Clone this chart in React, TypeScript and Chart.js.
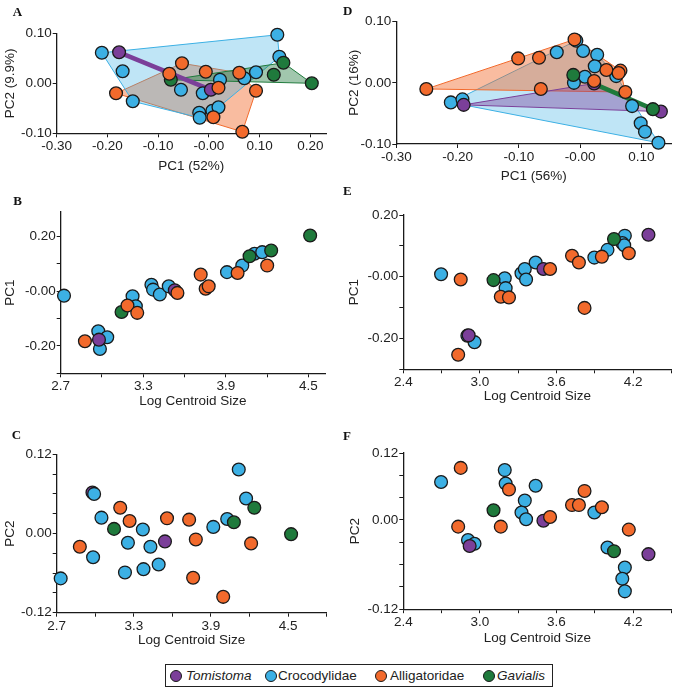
import React, { useEffect, useRef } from 'react';
import { Chart, registerables } from 'chart.js';
Chart.register(...registerables);

const FONT = '"Liberation Sans", Arial, Helvetica, sans-serif';
const SERIF = '"Liberation Serif", "Times New Roman", serif';
const TEXT = '#222';
const INK = '#1a1a1a';

const GROUP_KEYS = ['tomi', 'croc', 'alli', 'gavi'];
const GROUP_NAMES = ['Tomistoma', 'Crocodylidae', 'Alligatoridae', 'Gavialis'];
const GROUP_ITALIC = [true, false, false, true];
const COLORS: Record<string, string> = { tomi: '#7b3f99', croc: '#3cb0e4', alli: '#f26a2c', gavi: '#1f7a3c' };
const FILL_ALPHA: Record<string, number> = { tomi: 0.4, croc: 0.33, alli: 0.45, gavi: 0.42 };

// ---------- Panel A : PC1 vs PC2 ----------
const A_CROC_X = [-0.211, 0.135, 0.139, -0.170, -0.150, -0.055, -0.012, 0.022, -0.019, -0.018, 0.007, 0.019, 0.070, 0.093];
const A_CROC_Y = [0.061, 0.097, 0.053, 0.024, -0.036, -0.013, -0.020, 0.007, -0.059, -0.069, -0.055, -0.048, 0.010, 0.022];
const A_ALLI_X = [-0.053, -0.078, -0.006, -0.183, 0.019, 0.093, 0.009, 0.066, 0.060];
const A_ALLI_Y = [0.040, 0.019, 0.023, -0.020, -0.009, -0.015, -0.068, -0.097, 0.021];
const A_GAVI_X = [-0.075, 0.147, 0.128, 0.203];
const A_GAVI_Y = [0.007, 0.041, 0.017, 0.000];
const A_TOMI_X = [-0.177, 0.004];
const A_TOMI_Y = [0.062, -0.013];
const A_X_TICKS = [-0.3, -0.2, -0.1, 0, 0.1, 0.2];
const A_X_LABELS = ['-0.30', '-0.20', '-0.10', '-0.00', '0.10', '0.20'];
const A_Y_TICKS = [-0.1, 0, 0.1];
const A_Y_LABELS = ['-0.10', '0.00', '0.10'];

// ---------- Panel D : PC1 vs PC2 ----------
const D_CROC_X = [-0.006, -0.038, 0.005, 0.028, 0.024, 0.059, 0.008, -0.010, -0.211, -0.192, 0.085, 0.099, 0.106, 0.128];
const D_CROC_Y = [0.069, 0.050, 0.052, 0.046, 0.027, 0.011, 0.010, 0.000, -0.032, -0.027, -0.038, -0.066, -0.080, -0.098];
const D_ALLI_X = [-0.251, -0.101, -0.067, -0.009, -0.064, 0.023, 0.043, 0.066, 0.063, 0.074];
const D_ALLI_Y = [-0.010, 0.040, 0.041, 0.071, -0.010, 0.003, 0.021, 0.020, 0.016, -0.015];
const D_GAVI_X = [-0.011, 0.119];
const D_GAVI_Y = [0.013, -0.043];
const D_TOMI_X = [-0.190, 0.023, 0.132];
const D_TOMI_Y = [-0.036, -0.001, -0.047];
const D_X_TICKS = [-0.3, -0.2, -0.1, 0, 0.1];
const D_X_LABELS = ['-0.30', '-0.20', '-0.10', '-0.00', '0.10'];
const D_Y_TICKS = [-0.1, 0, 0.1];
const D_Y_LABELS = ['-0.10', '0.00', '0.10'];

// ---------- Panel B : Log centroid size vs PC1 ----------
const B_CROC_X = [2.724, 2.973, 2.985, 3.038, 3.222, 3.246, 3.359, 3.371, 3.420, 3.485, 3.908, 4.019, 4.108, 4.164];
const B_CROC_Y = [-0.016, -0.146, -0.211, -0.168, -0.018, -0.055, 0.024, 0.006, -0.012, 0.018, 0.070, 0.094, 0.137, 0.143];
const B_ALLI_X = [2.876, 3.185, 3.256, 3.548, 3.717, 3.753, 3.775, 3.985, 4.200];
const B_ALLI_Y = [-0.183, -0.052, -0.079, -0.006, 0.061, 0.009, 0.018, 0.067, 0.094];
const B_GAVI_X = [3.142, 4.072, 4.229, 4.512];
const B_GAVI_Y = [-0.076, 0.128, 0.149, 0.204];
const B_TOMI_X = [2.978, 3.529];
const B_TOMI_Y = [-0.177, 0.004];
const B_X_TICKS = [2.7, 3.0, 3.3, 3.6, 3.9, 4.2, 4.5];
const B_X_LABELS = ['2.7', '', '3.3', '', '3.9', '', '4.5'];
const B_Y_TICKS = [-0.3, -0.2, -0.1, 0, 0.1, 0.2];
const B_Y_LABELS = ['', '-0.20', '', '-0.00', '', '0.20'];

// ---------- Panel E : Log centroid size vs PC1 ----------
const E_CROC_X = [2.696, 3.195, 3.202, 3.326, 3.352, 3.362, 3.437, 2.958, 3.897, 4.000, 4.136, 4.116, 4.131, 2.902];
const E_CROC_Y = [0.008, -0.005, -0.037, 0.011, 0.025, -0.009, 0.046, -0.212, 0.062, 0.087, 0.133, 0.109, 0.102, -0.191];
const E_ALLI_X = [2.850, 2.830, 3.164, 3.228, 3.550, 3.722, 3.776, 3.820, 3.956, 4.167];
const E_ALLI_Y = [-0.009, -0.253, -0.065, -0.067, 0.025, 0.068, 0.046, -0.101, 0.065, 0.076];
const E_GAVI_X = [3.107, 4.051];
const E_GAVI_Y = [-0.011, 0.122];
const E_TOMI_X = [2.912, 3.498, 4.321];
const E_TOMI_Y = [-0.190, 0.025, 0.136];
const E_X_TICKS = [2.4, 2.7, 3.0, 3.3, 3.6, 3.9, 4.2, 4.5];
const E_X_LABELS = ['2.4', '', '3.0', '', '3.6', '', '4.2', ''];
const E_Y_TICKS = [-0.3, -0.2, -0.1, 0, 0.1, 0.2];
const E_Y_LABELS = ['', '-0.20', '', '-0.00', '', '0.20'];

// ---------- Panel C : Log centroid size vs PC2 ----------
const C_CROC_X = [2.731, 2.991, 2.983, 3.048, 3.254, 3.231, 3.370, 3.429, 3.375, 3.493, 3.918, 4.026, 4.116, 4.173];
const C_CROC_Y = [-0.068, 0.060, -0.036, 0.024, -0.014, -0.059, 0.006, -0.020, -0.054, -0.047, 0.010, 0.022, 0.097, 0.053];
const C_ALLI_X = [2.880, 3.194, 3.267, 3.558, 3.730, 3.782, 3.761, 3.995, 4.212];
const C_ALLI_Y = [-0.020, 0.039, 0.019, 0.023, 0.021, -0.009, -0.067, -0.096, -0.015];
const C_GAVI_X = [3.146, 4.078, 4.237, 4.523];
const C_GAVI_Y = [0.007, 0.017, 0.039, -0.001];
const C_TOMI_X = [2.978, 3.542];
const C_TOMI_Y = [0.062, -0.012];
const C_X_TICKS = [2.7, 3.0, 3.3, 3.6, 3.9, 4.2, 4.5, 4.8];
const C_X_LABELS = ['2.7', '', '3.3', '', '3.9', '', '4.5', ''];
const C_Y_TICKS = [-0.12, -0.09, -0.06, -0.03, 0, 0.03, 0.06, 0.09, 0.12];
const C_Y_LABELS = ['-0.12', '', '', '', '0.00', '', '', '', '0.12'];

// ---------- Panel F : Log centroid size vs PC2 ----------
const F_CROC_X = [2.696, 3.195, 3.202, 3.437, 3.352, 3.326, 3.362, 2.907, 2.958, 3.897, 4.000, 4.136, 4.116, 4.136];
const F_CROC_Y = [0.051, 0.067, 0.049, 0.046, 0.026, 0.010, 0.001, -0.027, -0.032, 0.010, -0.037, -0.064, -0.079, -0.096];
const F_ALLI_X = [2.850, 2.830, 3.164, 3.228, 3.550, 3.722, 3.776, 3.820, 3.956, 4.167];
const F_ALLI_Y = [0.070, -0.009, -0.009, 0.041, 0.004, 0.020, 0.020, 0.039, 0.017, -0.013];
const F_GAVI_X = [3.107, 4.051];
const F_GAVI_Y = [0.013, -0.042];
const F_TOMI_X = [2.920, 3.498, 4.321];
const F_TOMI_Y = [-0.035, -0.001, -0.046];
const F_X_TICKS = [2.4, 2.7, 3.0, 3.3, 3.6, 3.9, 4.2, 4.5];
const F_X_LABELS = ['2.4', '', '3.0', '', '3.6', '', '4.2', ''];
const F_Y_TICKS = [-0.12, -0.09, -0.06, -0.03, 0, 0.03, 0.06, 0.09];
const F_Y_LABELS = ['-0.12', '', '', '', '0.00', '', '', '0.12'];

type Pt = { x: number; y: number };
const pts = (xs: number[], ys: number[]): Pt[] => xs.map((x, i) => ({ x, y: ys[i] }));

function hull(p: Pt[]): Pt[] {
  const s = [...p].sort((a, b) => a.x - b.x || a.y - b.y);
  if (s.length < 3) return s;
  const cross = (o: Pt, a: Pt, b: Pt) => (a.x - o.x) * (b.y - o.y) - (a.y - o.y) * (b.x - o.x);
  const lower: Pt[] = [];
  for (const q of s) {
    while (lower.length >= 2 && cross(lower[lower.length - 2], lower[lower.length - 1], q) <= 0) lower.pop();
    lower.push(q);
  }
  const upper: Pt[] = [];
  for (let i = s.length - 1; i >= 0; i--) {
    const q = s[i];
    while (upper.length >= 2 && cross(upper[upper.length - 2], upper[upper.length - 1], q) <= 0) upper.pop();
    upper.push(q);
  }
  upper.pop();
  lower.pop();
  const h = lower.concat(upper);
  return [...h, h[0]];
}

function rgba(hex: string, a: number) {
  const n = parseInt(hex.slice(1), 16);
  return `rgba(${(n >> 16) & 255},${(n >> 8) & 255},${n & 255},${a})`;
}

const PANELS: any[] = [
  {
    label: 'A', labelPos: [12.7, 5],
    box: { x: 0, y: 0, w: 339, h: 190 }, area: { L: 56.7, R: 326, T: 33.3, B: 133.3 }, yTitleCx: 10, xTitleCy: 166.7,
    x: { min: -0.3, max: 0.231, ticks: A_X_TICKS, labels: A_X_LABELS, title: 'PC1 (52%)' },
    y: { min: -0.1, max: 0.1, ticks: A_Y_TICKS, labels: A_Y_LABELS, title: 'PC2 (9.9%)' },
    data: { tomi: pts(A_TOMI_X, A_TOMI_Y), croc: pts(A_CROC_X, A_CROC_Y), alli: pts(A_ALLI_X, A_ALLI_Y), gavi: pts(A_GAVI_X, A_GAVI_Y) },
    hulls: ['alli', 'croc', 'gavi'], lines: ['tomi'], stack: ['croc', 'tomi', 'gavi', 'alli'],
  },
  {
    label: 'D', labelPos: [343, 3.7],
    box: { x: 339, y: 0, w: 340, h: 190 }, area: { L: 396.3, R: 674, T: 21.7, B: 144 }, yTitleCx: 354, xTitleCy: 176.7,
    x: { min: -0.3, max: 0.149, ticks: D_X_TICKS, labels: D_X_LABELS, title: 'PC1 (56%)' },
    y: { min: -0.1, max: 0.1, ticks: D_Y_TICKS, labels: D_Y_LABELS, title: 'PC2 (16%)' },
    data: { tomi: pts(D_TOMI_X, D_TOMI_Y), croc: pts(D_CROC_X, D_CROC_Y), alli: pts(D_ALLI_X, D_ALLI_Y), gavi: pts(D_GAVI_X, D_GAVI_Y) },
    hulls: ['croc', 'alli', 'tomi'], lines: ['gavi'], stack: ['croc', 'tomi', 'gavi', 'alli'],
  },
  {
    label: 'B', labelPos: [13.3, 194.4],
    box: { x: 0, y: 195, w: 339, h: 225 }, area: { L: 60.7, R: 325, T: 211.7, B: 373.3 }, yTitleCx: 10, xTitleCy: 401.7,
    x: { min: 2.7, max: 4.62, ticks: B_X_TICKS, labels: B_X_LABELS, title: 'Log Centroid Size' },
    y: { min: -0.3, max: 0.291, ticks: B_Y_TICKS, labels: B_Y_LABELS, title: 'PC1' },
    data: { tomi: pts(B_TOMI_X, B_TOMI_Y), croc: pts(B_CROC_X, B_CROC_Y), alli: pts(B_ALLI_X, B_ALLI_Y), gavi: pts(B_GAVI_X, B_GAVI_Y) },
    hulls: [], lines: [], stack: ['croc', 'tomi', 'gavi', 'alli'],
  },
  {
    label: 'E', labelPos: [343, 183.7],
    box: { x: 339, y: 195, w: 340, h: 225 }, area: { L: 403.3, R: 675.5, T: 215, B: 369.3 }, yTitleCx: 354, xTitleCy: 396.7,
    x: { min: 2.4, max: 4.5, ticks: E_X_TICKS, labels: E_X_LABELS, title: 'Log Centroid Size' },
    y: { min: -0.3, max: 0.2, ticks: E_Y_TICKS, labels: E_Y_LABELS, title: 'PC1' },
    data: { tomi: pts(E_TOMI_X, E_TOMI_Y), croc: pts(E_CROC_X, E_CROC_Y), alli: pts(E_ALLI_X, E_ALLI_Y), gavi: pts(E_GAVI_X, E_GAVI_Y) },
    hulls: [], lines: [], stack: ['croc', 'tomi', 'gavi', 'alli'],
  },
  {
    label: 'C', labelPos: [11.7, 427.7],
    box: { x: 0, y: 425, w: 339, h: 232 }, area: { L: 56.7, R: 326.7, T: 454.3, B: 612.7 }, yTitleCx: 10.7, xTitleCy: 640,
    x: { min: 2.7, max: 4.8, ticks: C_X_TICKS, labels: C_X_LABELS, title: 'Log Centroid Size' },
    y: { min: -0.12, max: 0.12, ticks: C_Y_TICKS, labels: C_Y_LABELS, title: 'PC2' },
    data: { tomi: pts(C_TOMI_X, C_TOMI_Y), croc: pts(C_CROC_X, C_CROC_Y), alli: pts(C_ALLI_X, C_ALLI_Y), gavi: pts(C_GAVI_X, C_GAVI_Y) },
    hulls: [], lines: [], stack: ['tomi', 'croc', 'gavi', 'alli'],
  },
  {
    label: 'F', labelPos: [343, 429.4],
    box: { x: 339, y: 425, w: 340, h: 232 }, area: { L: 403.3, R: 675.5, T: 453, B: 609.2 }, yTitleCx: 355.7, xTitleCy: 638.3,
    x: { min: 2.4, max: 4.5, ticks: F_X_TICKS, labels: F_X_LABELS, title: 'Log Centroid Size' },
    y: { min: -0.12, max: 0.09, ticks: F_Y_TICKS, labels: F_Y_LABELS, title: 'PC2' },
    data: { tomi: pts(F_TOMI_X, F_TOMI_Y), croc: pts(F_CROC_X, F_CROC_Y), alli: pts(F_ALLI_X, F_ALLI_Y), gavi: pts(F_GAVI_X, F_GAVI_Y) },
    hulls: [], lines: [], stack: ['croc', 'tomi', 'gavi', 'alli'],
  },
];

const TICK_FONT = { family: FONT, size: 13.5, lineHeight: 1.2 };
const TITLE_FONT = { family: FONT, size: 13.5, lineHeight: 1.2 };

function Panel({ cfg }: { cfg: any }) {
  const ref = useRef<HTMLCanvasElement | null>(null);
  useEffect(() => {
    const c = cfg;
    const o = (TITLE_FONT.size * TITLE_FONT.lineHeight) / 2;
    const pl = c.yTitleCx - o - c.box.x;
    const yW = c.area.L - c.box.x - pl;
    const pr = c.box.x + c.box.w - c.area.R;
    const pt = c.area.T - c.box.y;
    const scaleBottom = c.xTitleCy + o;
    const pb = c.box.y + c.box.h - scaleBottom;
    const xH = scaleBottom - c.area.B;

    const datasets: any[] = [];
    c.hulls.forEach((g: string, k: number) => {
      datasets.push({
        type: 'line', data: hull(c.data[g]), borderColor: COLORS[g], borderWidth: 1,
        backgroundColor: rgba(COLORS[g], FILL_ALPHA[g]), fill: 'shape', pointRadius: 0,
        tension: 0, clip: false, order: 100 - k,
      });
    });
    c.lines.forEach((g: string, k: number) => {
      datasets.push({
        type: 'line', data: c.data[g], borderColor: COLORS[g], borderWidth: 4.5, fill: false,
        pointRadius: 0, tension: 0, clip: false, order: 50 - k,
      });
    });
    c.stack.forEach((g: string, k: number) => {
      datasets.push({
        type: 'scatter', data: c.data[g], showLine: false, clip: false, order: 10 - k,
        backgroundColor: COLORS[g], borderColor: INK, borderWidth: 1.3,
        pointBackgroundColor: COLORS[g], pointBorderColor: INK, pointBorderWidth: 1.3,
        pointRadius: 6.4, pointHoverRadius: 6.4,
      });
    });

    const axis = (ax: any, isX: boolean) => ({
      type: 'linear',
      position: isX ? 'bottom' : 'left',
      min: ax.min,
      max: ax.max,
      grid: { display: true, drawOnChartArea: false, drawTicks: true, tickLength: 4, color: INK, lineWidth: 1 },
      border: { display: true, color: INK, width: 1.3 },
      ticks: {
        autoSkip: false, maxRotation: 0, minRotation: 0, padding: 1, color: TEXT, font: TICK_FONT,
        callback: (_v: any, i: number) => ax.labels[i] ?? '',
      },
      title: { display: true, text: ax.title, color: TEXT, font: TITLE_FONT, padding: 0 },
      afterBuildTicks: (s: any) => {
        s.ticks = ax.ticks.map((v: number) => ({ value: v }));
      },
      afterFit: (s: any) => {
        if (isX) {
          s.height = xH;
          s.paddingLeft = 0;
          s.paddingRight = 0;
        } else {
          s.width = yW;
          s.paddingTop = 0;
          s.paddingBottom = 0;
        }
      },
    });

    const chart = new Chart(ref.current as HTMLCanvasElement, {
      type: 'scatter',
      data: { datasets },
      options: {
        animation: false,
        responsive: false,
        maintainAspectRatio: false,
        events: [],
        layout: { padding: { left: pl, right: pr, top: pt, bottom: pb } },
        plugins: { legend: { display: false }, tooltip: { enabled: false } },
        scales: { x: axis(c.x, true), y: axis(c.y, false) } as any,
      },
    } as any);
    return () => chart.destroy();
  }, [cfg]);
  return (
    <canvas
      ref={ref}
      width={cfg.box.w}
      height={cfg.box.h}
      style={{ position: 'absolute', left: cfg.box.x, top: cfg.box.y, width: cfg.box.w, height: cfg.box.h }}
    />
  );
}

const LEGEND_CIRCLE_X = [170, 265, 375, 483];
const LEGEND_TEXT_X = [186, 278, 390, 497];

export default function App() {
  return (
    <div style={{ position: 'absolute', left: 0, top: 0, width: 679, height: 692, background: '#fff', overflow: 'hidden', fontFamily: FONT }}>
      {PANELS.map((p) => (
        <Panel key={p.label} cfg={p} />
      ))}
      {PANELS.map((p) => (
        <div
          key={'lbl' + p.label}
          style={{
            position: 'absolute', left: p.labelPos[0], top: p.labelPos[1], fontFamily: SERIF, fontWeight: 'bold',
            fontSize: 13, lineHeight: '13px', color: '#111', zIndex: 2,
          }}
        >
          {p.label}
        </div>
      ))}
      <div
        style={{
          position: 'absolute', left: 165, top: 664, width: 388, height: 23, border: '1.5px solid #222',
          boxSizing: 'border-box', zIndex: 2,
        }}
      />
      {GROUP_KEYS.map((g, i) => (
        <React.Fragment key={g}>
          <div
            style={{
              position: 'absolute', left: LEGEND_CIRCLE_X[i], top: 669.5, width: 12, height: 12, borderRadius: '50%',
              background: COLORS[g], border: '1px solid ' + INK, boxSizing: 'border-box', zIndex: 3,
            }}
          />
          <div
            style={{
              position: 'absolute', left: LEGEND_TEXT_X[i], top: 667.5, fontSize: 13.5, lineHeight: '16px',
              fontStyle: GROUP_ITALIC[i] ? 'italic' : 'normal', color: TEXT, whiteSpace: 'nowrap', zIndex: 3,
            }}
          >
            {GROUP_NAMES[i]}
          </div>
        </React.Fragment>
      ))}
    </div>
  );
}
